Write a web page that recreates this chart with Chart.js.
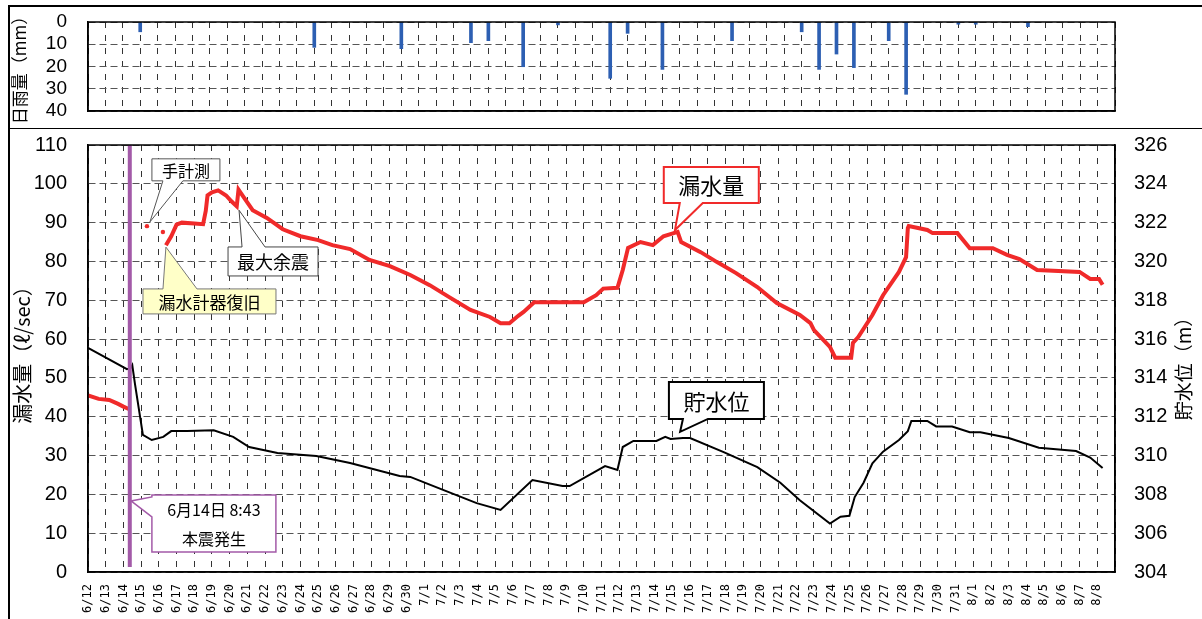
<!DOCTYPE html>
<html>
<head>
<meta charset="utf-8">
<script src="https://cdn.jsdelivr.net/npm/chart.js@4.4.1/dist/chart.umd.min.js"></script>
<style>
    html, body { margin: 0; padding: 0; background: #fff; overflow: hidden; }
    #wrap { position: relative; width: 1202px; height: 619px; overflow: hidden; }
    canvas { position: absolute; left: 0; }
    #rainCanvas { top: 0; }
    #mainCanvas { top: 128px; }
    .rule { position: absolute; background: #000; }
</style>
</head>
<body>
<div id="wrap">
    <canvas id="rainCanvas" width="1202" height="128"></canvas>
    <canvas id="mainCanvas" width="1202" height="520"></canvas>
    <div class="rule" style="left:8px;top:5px;width:1194px;height:1.5px"></div>
    <div class="rule" style="left:8px;top:5px;width:1.5px;height:614px"></div>
    <div class="rule" style="left:8px;top:127.5px;width:1194px;height:1.5px"></div>
</div>
<script>
// --- DATA ---
// x positions are days counted from 6/12 (0) to 8/9 (58)
const dayLabels = [
    '6/12','6/13','6/14','6/15','6/16','6/17','6/18','6/19','6/20','6/21','6/22','6/23','6/24','6/25',
    '6/26','6/27','6/28','6/29','6/30',
    '7/1','7/2','7/3','7/4','7/5','7/6','7/7','7/8','7/9','7/10','7/11','7/12','7/13','7/14','7/15',
    '7/16','7/17','7/18','7/19','7/20','7/21','7/22','7/23','7/24','7/25','7/26','7/27','7/28','7/29',
    '7/30','7/31',
    '8/1','8/2','8/3','8/4','8/5','8/6','8/7','8/8'
];

// daily rainfall (mm), bar drawn in the middle of its day
const rainDay = [2, 12, 17, 21, 22, 24, 26, 29, 30, 32, 36, 40, 41, 42, 43, 45, 46, 49, 50, 53];
const rainMm  = [4.4, 11.4, 12, 9.3, 8.4, 20.1, 1.3, 25.3, 5.1, 21.3, 8.4, 4.4, 21.3, 14.4, 20.5, 8.4, 32.5, 1, 1, 2.1];

// leakage (l/sec) before the main shock
const leakPreDay = [0, 0.6, 1.2, 1.7, 2.0, 2.3];
const leakPreVal = [45.5, 44.6, 44.3, 43.3, 42.6, 42.0];

// hand measurements
const leakHandDay = [3.33, 4.23];
const leakHandVal = [89.1, 87.6];

// leakage after gauge recovery
const leakDay = [4.4, 4.7, 5.0, 5.3, 6.0, 6.5, 6.65, 6.75, 7.0, 7.35, 7.8, 8.1, 8.4, 8.5, 8.8, 9.3, 10.1, 11.0,
    12.0, 13.0, 13.8, 14.8, 15.9, 17.05, 18.2, 19.3, 20.4, 21.6, 22.7, 23.3, 23.8, 24.3, 24.6, 25.2, 28.0,
    28.7, 29.1, 29.9, 30.2, 30.5, 31.2, 31.9, 32.5, 33.3, 33.5, 34.6, 35.5, 36.6, 37.8, 38.9, 40.2, 40.8,
    41.0, 41.9, 42.2, 43.1, 43.2, 43.5, 44.3, 44.9, 45.8, 46.2, 46.3, 46.35, 47.4, 47.7, 49.1, 49.8, 51.1,
    51.9, 52.6, 53.6, 56.0, 56.6, 57.1, 57.3];
const leakVal = [84.2, 86.5, 89.5, 90.0, 89.8, 89.6, 93.0, 97.0, 97.8, 98.3, 97.0, 95.5, 94.2, 98.5, 96.5, 93.2, 91.2, 88.3,
    86.5, 85.5, 84.2, 83.2, 80.4, 78.8, 76.5, 73.9, 70.8, 67.5, 65.7, 64.1, 64.1, 66.0, 67.0, 69.5, 69.5,
    71.3, 73.0, 73.2, 77.8, 83.5, 85.0, 84.2, 86.5, 87.6, 85.0, 82.4, 79.9, 77.0, 73.4, 69.3, 66.2, 64.1,
    62.3, 58.0, 55.2, 55.2, 59.0, 60.5, 66.2, 71.3, 77.3, 81.1, 88.6, 89.1, 88.1, 87.3, 87.3, 83.4, 83.4,
    81.7, 80.6, 77.8, 77.3, 75.5, 75.5, 74.0];

// reservoir water level (m)
const levelDay = [0, 2.2, 2.4, 2.5, 2.65, 3.1, 3.6, 4.25, 4.7, 5.6, 7.1, 8.2, 9.1, 10.7, 12.9, 14.8, 17.6, 18.2,
    19.3, 21.95, 23.3, 25.1, 26.8, 27.2, 29.2, 29.9, 30.2, 30.8, 32.1, 32.6, 32.9, 33.6, 34.0, 35.9, 37.8,
    39.1, 40.2, 41.9, 42.5, 43.0, 43.3, 43.8, 44.3, 44.9, 45.8, 46.3, 46.5, 47.4, 47.9, 48.8, 49.8, 50.4,
    52.0, 53.7, 55.8, 56.6, 57.3];
const levelVal = [315.55, 314.45, 314.5, 314.66, 313.7, 311.06, 310.8, 310.96, 311.26, 311.26, 311.3, 310.96,
    310.44, 310.13, 309.98, 309.62, 308.95, 308.9, 308.5, 307.55, 307.2, 308.74, 308.43, 308.43, 309.46,
    309.26, 310.44, 310.75, 310.75, 310.96, 310.85, 310.9, 310.9, 310.18, 309.4, 308.6, 307.7, 306.5,
    306.85, 306.9, 307.86, 308.6, 309.6, 310.2, 310.8, 311.26, 311.78, 311.78, 311.5, 311.5, 311.2, 311.2,
    310.9, 310.4, 310.23, 309.9, 309.36];

// main shock 6/14 8:43
const quakeDay = 2.36;

// --- STYLE ---
const RED = '#f02a2a';
const PURPLE = '#a35aa8';
const NUM_FONT = "'Liberation Sans', Arial, sans-serif";
const JP_FONT = "'Noto Sans CJK JP', 'Liberation Sans', sans-serif";
const CLEAR = 'rgba(0,0,0,0)';

Chart.defaults.color = '#000';
Chart.defaults.font.family = NUM_FONT;

const zip = (xs, ys) => xs.map((x, i) => ({ x: x, y: ys[i] }));

// callouts: centre and tip in data units (x = day, y = left axis)
const callouts = [
    { lines: ['手計測'], cx: 5.53, cy: 103.6, w: 68, h: 22, side: 'bottom', b1: 11, b2: 31, tx: 3.5, ty: 90.2,
      font: '16px ' + JP_FONT, fill: '#fff', stroke: '#555', lw: 1 },
    { lines: ['漏水計器復旧'], cx: 6.86, cy: 69.7, w: 133, h: 25, side: 'top', b1: 20, b2: 54, tx: 4.4, ty: 83.7,
      font: '17px ' + JP_FONT, fill: '#ffffc8', stroke: '#777', lw: 1 },
    { lines: ['最大余震'], cx: 10.45, cy: 80.0, w: 90, h: 29, side: 'top', b1: 14, b2: 37, tx: 8.53, ty: 93.2,
      font: '18px ' + JP_FONT, fill: '#fff', stroke: '#444', lw: 1 },
    { lines: ['漏水量'], cx: 35.2, cy: 99.7, w: 95, h: 36, side: 'bottom', b1: 16, b2: 39, tx: 33.15, ty: 88.1,
      font: '22px ' + JP_FONT, fill: '#fff', stroke: RED, lw: 2 },
    { lines: ['貯水位'], cx: 35.49, cy: 44.2, w: 95, h: 37, side: 'bottom', b1: 14, b2: 39, tx: 33.44, ty: 36.1,
      font: '22px ' + JP_FONT, fill: '#fff', stroke: '#000', lw: 2 },
    { lines: ['6月14日 8:43', '本震発生'], cx: 7.11, cy: 12.5, w: 124, h: 57, side: 'left', b1: 2, b2: 22, tx: 2.43, ty: 18.3,
      font: '16px ' + JP_FONT, fill: '#fff', stroke: PURPLE, lw: 1.5 }
];

function calloutPath(ctx, x0, y0, w, h, side, b1, b2, tx, ty) {
    const x1 = x0 + w, y1 = y0 + h;
    ctx.beginPath();
    ctx.moveTo(x0, y0);
    if (side === 'top') { ctx.lineTo(x0 + b1, y0); ctx.lineTo(tx, ty); ctx.lineTo(x0 + b2, y0); }
    ctx.lineTo(x1, y0);
    ctx.lineTo(x1, y1);
    if (side === 'bottom') { ctx.lineTo(x0 + b2, y1); ctx.lineTo(tx, ty); ctx.lineTo(x0 + b1, y1); }
    ctx.lineTo(x0, y1);
    if (side === 'left') { ctx.lineTo(x0, y0 + b2); ctx.lineTo(tx, ty); ctx.lineTo(x0, y0 + b1); }
    ctx.closePath();
}

function drawVertTitle(ctx, text, x, y, font) {
    ctx.save();
    ctx.translate(x, y);
    ctx.rotate(-Math.PI / 2);
    ctx.font = font;
    ctx.textAlign = 'center';
    ctx.textBaseline = 'middle';
    ctx.fillStyle = '#000';
    ctx.fillText(text, 0, 0);
    ctx.restore();
}

// frame around plot area + titles + callouts
const decorPlugin = {
    id: 'decor',
    afterDraw(chart, args, opts) {
        const ctx = chart.ctx;
        const a = chart.chartArea;
        ctx.save();
        ctx.strokeStyle = '#000';
        ctx.lineWidth = 1.5;
        ctx.strokeRect(a.left, a.top, a.right - a.left, a.bottom - a.top);
        ctx.restore();

        (opts.titles || []).forEach(t => drawVertTitle(ctx, t.text, t.x, t.y, t.font));

        if (!opts.callouts) return;
        const sx = chart.scales.x, sy = chart.scales.y;
        opts.callouts.forEach(c => {
            const x0 = sx.getPixelForValue(c.cx) - c.w / 2;
            const y0 = sy.getPixelForValue(c.cy) - c.h / 2;
            const tx = sx.getPixelForValue(c.tx), ty = sy.getPixelForValue(c.ty);
            ctx.save();
            calloutPath(ctx, x0, y0, c.w, c.h, c.side, c.b1, c.b2, tx, ty);
            ctx.fillStyle = c.fill;
            ctx.fill();
            ctx.lineWidth = c.lw;
            ctx.strokeStyle = c.stroke;
            ctx.stroke();
            ctx.fillStyle = '#000';
            ctx.font = c.font;
            ctx.textAlign = 'center';
            ctx.textBaseline = 'middle';
            const lh = c.h / c.lines.length;
            c.lines.forEach((ln, i) => ctx.fillText(ln, x0 + c.w / 2, y0 + lh * (i + 0.5) + 1));
            ctx.restore();
        });
    }
};

const dayGrid = {
    grid: { color: '#333', lineWidth: 1, drawTicks: false },
    border: { display: true, color: '#000', width: 1.5, dash: [6, 7] }
};

// value axes: label gap made with an invisible tick mark so it does not pad the top/bottom
const valueGrid = (gap) => ({
    color: '#555', lineWidth: 1, drawTicks: true, tickLength: gap, tickColor: CLEAR
});

// --- RAINFALL PANEL ---
new Chart(document.getElementById('rainCanvas'), {
    type: 'bar',
    data: {
        datasets: [{
            data: zip(rainDay.map(d => d + 0.5), rainMm),
            backgroundColor: '#2d5fb2',
            barThickness: 3
        }]
    },
    options: {
        responsive: false,
        animation: false,
        devicePixelRatio: 1,
        layout: { padding: { top: 22, right: 87, bottom: 17, left: 0 } },
        plugins: {
            legend: { display: false },
            tooltip: { enabled: false },
            decor: { titles: [{ text: '日雨量（mm）', x: 20, y: 66, font: '17px ' + JP_FONT }] }
        },
        scales: {
            x: {
                type: 'linear', min: 0, max: 58,
                ticks: { display: false, stepSize: 1 },
                ...dayGrid,
                afterFit(s) { s.height = 0; }
            },
            y: {
                min: 0, max: 40, reverse: true,
                ticks: { stepSize: 10, autoSkip: false, padding: 0, font: { size: 19, lineHeight: 1 } },
                grid: valueGrid(21),
                border: { display: true, color: '#000', width: 1.5, dash: [7, 4] },
                afterFit(s) { s.width = 88; }
            }
        }
    },
    plugins: [decorPlugin]
});

// --- LEAKAGE / WATER LEVEL PANEL ---
new Chart(document.getElementById('mainCanvas'), {
    type: 'line',
    data: {
        datasets: [
            { data: [{ x: quakeDay, y: 110 }, { x: quakeDay, y: 1.3 }], borderColor: PURPLE, borderWidth: 4, pointRadius: 0, yAxisID: 'y' },
            { data: zip(leakPreDay, leakPreVal), borderColor: RED, borderWidth: 4, pointRadius: 0, yAxisID: 'y' },
            { data: zip(leakHandDay, leakHandVal), showLine: false, pointRadius: 2.2, pointBorderWidth: 0, pointBackgroundColor: RED, yAxisID: 'y' },
            { data: zip(leakDay, leakVal), borderColor: RED, borderWidth: 4, pointRadius: 0, yAxisID: 'y' },
            { data: zip(levelDay, levelVal), borderColor: '#000', borderWidth: 2, pointRadius: 0, yAxisID: 'y2' }
        ]
    },
    options: {
        responsive: false,
        animation: false,
        devicePixelRatio: 1,
        layout: { padding: { top: 17, right: 0, bottom: 0, left: 0 } },
        plugins: {
            legend: { display: false },
            tooltip: { enabled: false },
            decor: {
                titles: [
                    { text: '漏水量（ℓ/sec）', x: 22, y: 222, font: '20px ' + JP_FONT },
                    { text: '貯水位（m）', x: 1184, y: 236, font: '19px ' + JP_FONT }
                ],
                callouts: callouts
            }
        },
        scales: {
            x: {
                type: 'linear', min: 0, max: 58,
                ticks: {
                    stepSize: 1, autoSkip: false, minRotation: 90, maxRotation: 90, padding: 12,
                    font: { family: "'DejaVu Sans Mono', monospace", size: 12 },
                    callback: v => dayLabels[Math.round(v)] || ''
                },
                ...dayGrid,
                afterFit(s) { s.height = 76; }
            },
            y: {
                position: 'left', min: 0, max: 110,
                ticks: { stepSize: 10, autoSkip: false, padding: 0, font: { size: 20, lineHeight: 1 } },
                grid: valueGrid(21),
                border: { display: true, color: '#000', width: 1.5, dash: [7, 4] },
                afterFit(s) { s.width = 88; }
            },
            y2: {
                position: 'right', min: 304, max: 326,
                ticks: { stepSize: 2, autoSkip: false, padding: 0, font: { size: 20, lineHeight: 1 } },
                grid: { drawOnChartArea: false, drawTicks: true, tickLength: 19, tickColor: CLEAR },
                border: { display: true, color: '#000', width: 1.5 },
                afterFit(s) { s.width = 87; }
            }
        }
    },
    plugins: [decorPlugin]
});
</script>
</body>
</html>
